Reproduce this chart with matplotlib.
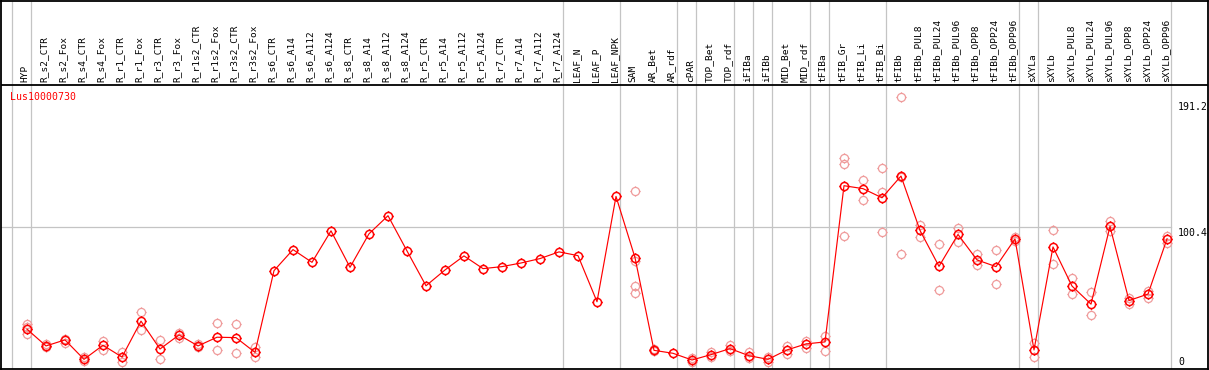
import matplotlib
matplotlib.use('Agg')
import matplotlib.pyplot as plt
from matplotlib.path import Path

# Data: gene Lus10000730 expression per sample (mean + replicates)
gene_name = 'Lus10000730'

categories = [
    'HYP', 'R_s2_CTR', 'R_s2_Fox', 'R_s4_CTR', 'R_s4_Fox', 'R_r1_CTR', 'R_r1_Fox',
    'R_r3_CTR', 'R_r3_Fox', 'R_r1s2_CTR', 'R_r1s2_Fox', 'R_r3s2_CTR', 'R_r3s2_Fox',
    'R_s6_CTR', 'R_s6_A14', 'R_s6_A112', 'R_s6_A124', 'R_s8_CTR', 'R_s8_A14',
    'R_s8_A112', 'R_s8_A124', 'R_r5_CTR', 'R_r5_A14', 'R_r5_A112', 'R_r5_A124',
    'R_r7_CTR', 'R_r7_A14', 'R_r7_A112', 'R_r7_A124', 'LEAF_N', 'LEAF_P', 'LEAF_NPK',
    'SAM', 'AR_Bet', 'AR_rdf', 'cPAR', 'TOP_Bet', 'TOP_rdf', 'iFIBa', 'iFIBb',
    'MID_Bet', 'MID_rdf', 'tFIBa', 'tFIB_Gr', 'tFIB_Li', 'tFIB_Bi', 'tFIBb',
    'tFIBb_PUL8', 'tFIBb_PUL24', 'tFIBb_PUL96', 'tFIBb_OPP8', 'tFIBb_OPP24',
    'tFIBb_OPP96', 'sXYLa', 'sXYLb', 'sXYLb_PUL8', 'sXYLb_PUL24', 'sXYLb_PUL96',
    'sXYLb_OPP8', 'sXYLb_OPP24', 'sXYLb_OPP96',
]

mean_values = [
    24.5, 12.0, 16.5, 2.0, 12.5, 3.7, 30.5,
    9.7, 20.2, 12.0, 18.5, 18.2, 7.2,
    68.2, 83.9, 74.4, 97.9, 70.7, 95.7,
    109.2, 82.9, 56.9, 68.7, 79.2, 69.7,
    71.2, 73.9, 77.2, 82.2, 79.4, 45.0, 123.6,
    77.9, 8.7, 6.5, 1.5, 5.5, 10.0, 4.7, 2.0,
    9.0, 13.5, 15.0, 131.6, 129.4, 122.6, 138.8,
    98.2, 71.4, 95.2, 76.2, 71.2,
    91.9, 9.0, 85.9, 56.7, 43.2, 101.2,
    45.9, 50.7, 91.9,
]

replicates = [
    [28.0, 26.0, 21.0], [13.5, 11.0], [17.5, 14.5], [3.5, 1.0], [16.0, 9.0], [7.5, 0.0], [37.2, 23.7],
    [16.5, 2.5], [22.0, 18.0], [13.5, 11.0], [29.0, 8.7], [28.2, 7.0], [11.5, 3.5],
    [], [], [], [], [], [],
    [], [], [], [], [], [],
    [], [], [], [], [], [], [],
    [127.9, 75.2, 56.4, 51.5], [9.5, 8.0], [], [3.2, 0.0], [7.2, 4.0], [12.7, 8.2], [7.7, 2.7], [4.0, 0.2],
    [12.0, 5.7], [16.0, 10.2], [19.5, 8.0], [152.1, 148.1, 93.9], [136.1, 121.1], [145.1, 126.6, 97.2], [197.6, 138.0, 80.9],
    [102.6, 93.4], [88.4, 53.9], [99.7, 89.9], [80.9, 72.4], [83.7, 58.4],
    [93.5, 90.5], [14.0, 3.5], [98.2, 73.4], [62.7, 50.9], [51.9, 35.0], [105.1, 97.6],
    [47.7, 43.5], [53.2, 47.7], [94.4, 88.9],
]

# sample groups separated by grey lines (index of last sample before the line)
group_breaks = [-1, 0, 28, 31, 34, 35, 37, 38, 39, 41, 42, 45, 52, 53, 60]
ytick_values = [191.2, 100.4, 0]

# pixel <-> data helpers (figure is 1209 x 370 px)
W, H = 1209, 370
def px_to_x(px):
    return (px - 27) / 19.0
def py_to_y(py):
    return (362 - py) * 100.4 / 134.5

main_color = '#ff0000'
rep_color = '#ef9b9b'
grid_color = '#c4c4c4'
mono = 'DejaVu Sans Mono'

# circle marker with small ticks at the four compass points
circ = Path.unit_circle()
verts = list(circ.vertices) + [(0, 1), (0, 1.25), (0, -1), (0, -1.25),
                               (1, 0), (1.25, 0), (-1, 0), (-1.25, 0)]
codes = list(circ.codes) + [Path.MOVETO, Path.LINETO] * 4
tick_circle = Path(verts, codes)

fig = plt.figure(figsize=(W / 100, H / 100), dpi=100)
ax = fig.add_axes([1 / W, 1 / H, 1207 / W, 368.5 / H])
ax.set_xlim(px_to_x(1), px_to_x(1208))
ax.set_ylim(py_to_y(369), py_to_y(0.5))
ax.set_xticks([])
ax.set_yticks([])
for sp in ax.spines.values():
    sp.set_linewidth(1.3)
    sp.set_color('black')

# grid lines
for b in group_breaks:
    ax.axvline(b + 4 / 19.0, color=grid_color, linewidth=0.9, zorder=1)
ax.plot([px_to_x(1), 60 + 4 / 19.0], [100.4, 100.4], color=grid_color, linewidth=0.9, zorder=1)

# separator between labels and plot
ax.axhline(py_to_y(85), color='black', linewidth=1.3, zorder=2)

# sample labels
for i, name in enumerate(categories):
    ax.text(i - 0.09, py_to_y(82.5), name, rotation=90, ha='center', va='bottom',
            fontsize=6.8, family=mono, color='black')

# replicates
x = list(range(len(categories)))
for i, reps in enumerate(replicates):
    if reps:
        ax.plot([i] * len(reps), reps, linestyle='none', marker=tick_circle,
                markersize=7.3, markerfacecolor='none', markeredgecolor=rep_color,
                markeredgewidth=0.9, zorder=3)

# mean line
ax.plot(x, mean_values, color=main_color, linewidth=0.85, zorder=4)
ax.plot(x, mean_values, linestyle='none', marker=tick_circle, markersize=7.3,
        markerfacecolor='none', markeredgecolor=main_color, markeredgewidth=1.1, zorder=5)

# gene name
ax.text(px_to_x(9.5), py_to_y(97), gene_name, color=main_color, fontsize=7.1,
        family=mono, ha='left', va='center')

# value labels on the right
label_py = {191.2: 107, 100.4: 232.7, 0: 361.7}
for v in ytick_values:
    txt = '0' if v == 0 else f'{v}'
    ax.text(px_to_x(1178), py_to_y(label_py[v]), txt, fontsize=7.1, family=mono,
            ha='left', va='center', color='black')

fig.savefig('out.png', dpi=100, facecolor='white')
